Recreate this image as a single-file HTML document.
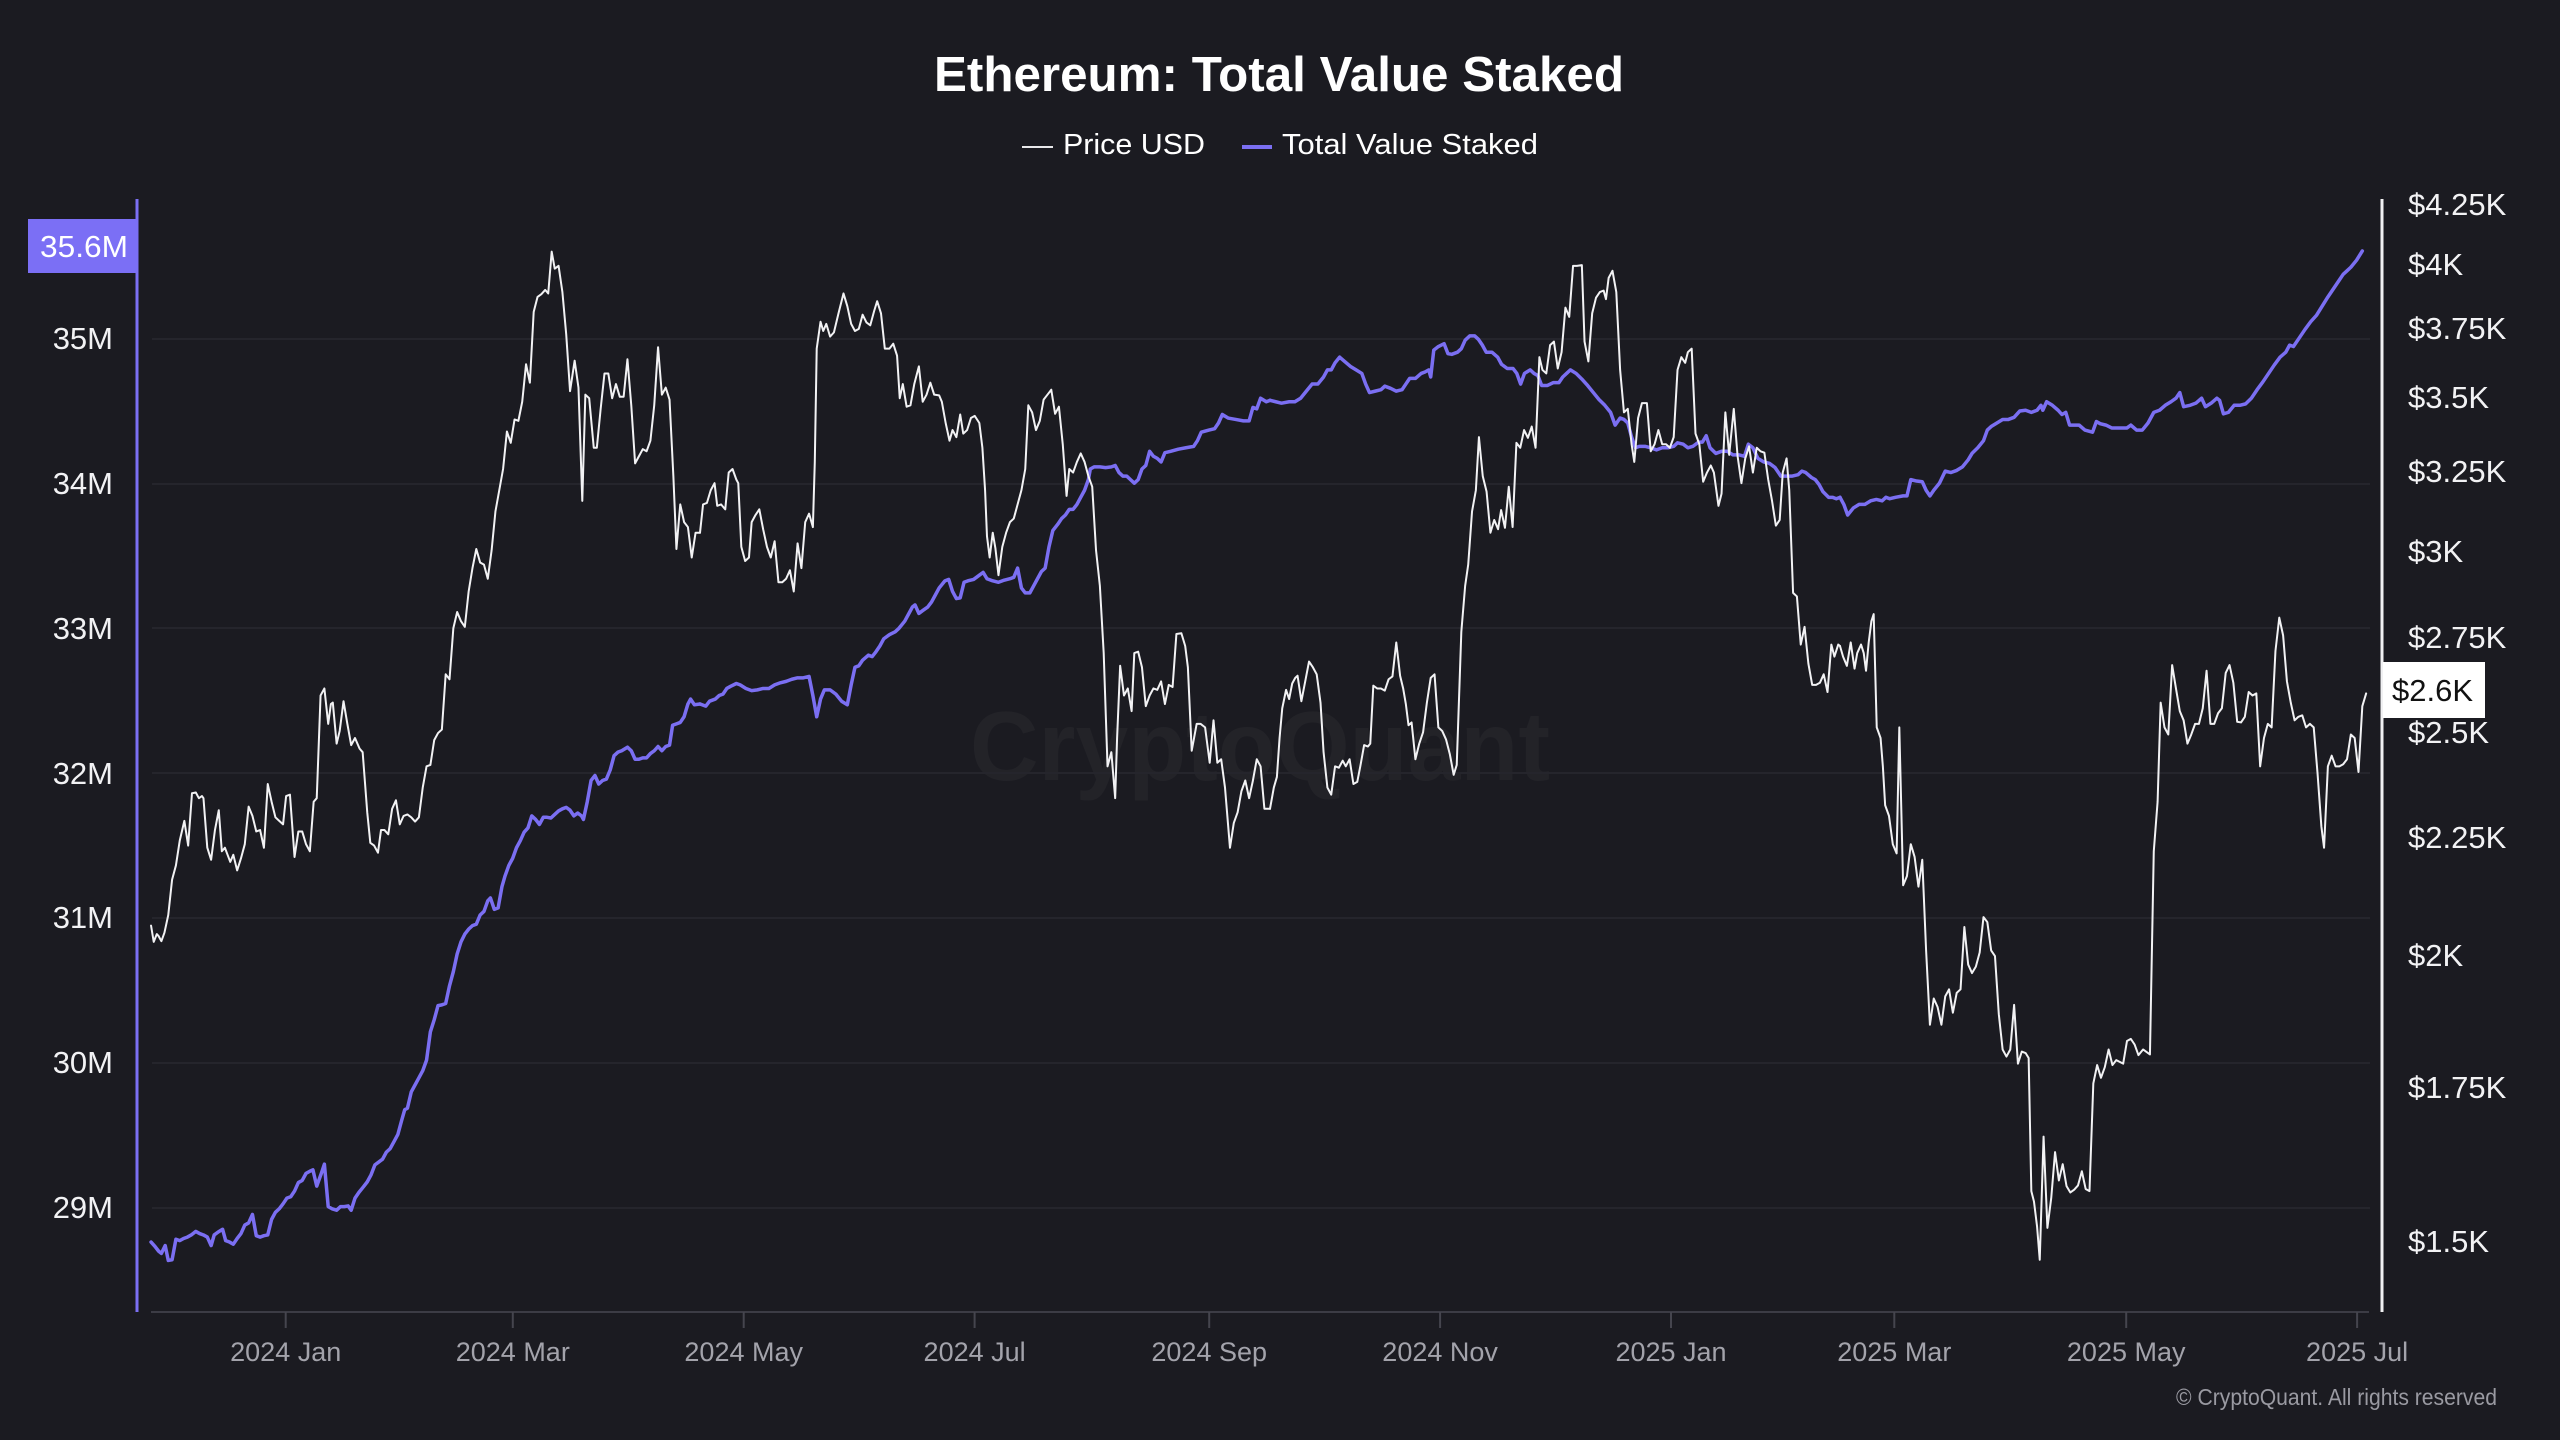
<!DOCTYPE html>
<html>
<head>
<meta charset="utf-8">
<style>
  html, body { margin: 0; padding: 0; background: #1b1b21; }
  svg { display: block; }
  text { font-family: "Liberation Sans", "DejaVu Sans", sans-serif; }
</style>
</head>
<body>
<svg width="2560" height="1440" viewBox="0 0 2560 1440" xmlns="http://www.w3.org/2000/svg">
  <rect x="0" y="0" width="2560" height="1440" fill="#1b1b21"/>

  <!-- Title -->
  <text x="1279" y="91" text-anchor="middle" font-size="49" font-weight="bold" fill="#ffffff" textLength="690" lengthAdjust="spacingAndGlyphs">Ethereum: Total Value Staked</text>

  <!-- Legend -->
  <line x1="1022" y1="147" x2="1053" y2="147" stroke="#e8e8ea" stroke-width="2"/>
  <text x="1063" y="154" font-size="29" fill="#ffffff" textLength="142" lengthAdjust="spacingAndGlyphs">Price USD</text>
  <line x1="1242" y1="147" x2="1272" y2="147" stroke="#7b6ff2" stroke-width="4"/>
  <text x="1282" y="154" font-size="29" fill="#ffffff" textLength="256" lengthAdjust="spacingAndGlyphs">Total Value Staked</text>

  <!-- Watermark -->
  <text x="970" y="780" font-size="98" font-weight="bold" fill="#ffffff" fill-opacity="0.035" textLength="580" lengthAdjust="spacingAndGlyphs">CryptoQuant</text>

  <!-- Gridlines -->
  <g stroke="#25252c" stroke-width="2">
    <line x1="152" y1="339" x2="2370" y2="339"/>
    <line x1="152" y1="484" x2="2370" y2="484"/>
    <line x1="152" y1="628" x2="2370" y2="628"/>
    <line x1="152" y1="773" x2="2370" y2="773"/>
    <line x1="152" y1="918" x2="2370" y2="918"/>
    <line x1="152" y1="1063" x2="2370" y2="1063"/>
    <line x1="152" y1="1208" x2="2370" y2="1208"/>
  </g>

  <!-- Bottom axis -->
  <line x1="151" y1="1312" x2="2369" y2="1312" stroke="#3c3c45" stroke-width="2"/>
  <g stroke="#45454e" stroke-width="2">
    <line x1="285.7" y1="1312" x2="285.7" y2="1328"/>
    <line x1="512.8" y1="1312" x2="512.8" y2="1328"/>
    <line x1="743.7" y1="1312" x2="743.7" y2="1328"/>
    <line x1="974.6" y1="1312" x2="974.6" y2="1328"/>
    <line x1="1209.2" y1="1312" x2="1209.2" y2="1328"/>
    <line x1="1440.1" y1="1312" x2="1440.1" y2="1328"/>
    <line x1="1671.0" y1="1312" x2="1671.0" y2="1328"/>
    <line x1="1894.3" y1="1312" x2="1894.3" y2="1328"/>
    <line x1="2126.2" y1="1312" x2="2126.2" y2="1328"/>
    <line x1="2357.1" y1="1312" x2="2357.1" y2="1328"/>
  </g>
  <g font-size="27" fill="#a3a3ab" text-anchor="middle">
    <text x="285.7" y="1361">2024 Jan</text>
    <text x="512.8" y="1361">2024 Mar</text>
    <text x="743.7" y="1361">2024 May</text>
    <text x="974.6" y="1361">2024 Jul</text>
    <text x="1209.2" y="1361">2024 Sep</text>
    <text x="1440.1" y="1361">2024 Nov</text>
    <text x="1671.0" y="1361">2025 Jan</text>
    <text x="1894.3" y="1361">2025 Mar</text>
    <text x="2126.2" y="1361">2025 May</text>
    <text x="2357.1" y="1361">2025 Jul</text>
  </g>

  <!-- Copyright -->
  <text x="2176" y="1405" font-size="23" fill="#9a9aa2" textLength="321" lengthAdjust="spacingAndGlyphs">© CryptoQuant. All rights reserved</text>

  <!-- Left axis -->
  <line x1="137" y1="199" x2="137" y2="1312" stroke="#7b6ff2" stroke-width="3"/>
  <g font-size="31" fill="#f2f2f4" text-anchor="end">
    <text x="113" y="349">35M</text>
    <text x="113" y="494">34M</text>
    <text x="113" y="639">33M</text>
    <text x="113" y="784">32M</text>
    <text x="113" y="928">31M</text>
    <text x="113" y="1073">30M</text>
    <text x="113" y="1218">29M</text>
  </g>
  <rect x="28" y="219" width="109" height="54" fill="#7b6ff5"/>
  <text x="128" y="257" font-size="31" fill="#ffffff" text-anchor="end" textLength="88" lengthAdjust="spacingAndGlyphs">35.6M</text>

  <!-- Right axis -->
  <line x1="2382" y1="199" x2="2382" y2="1312" stroke="#f0f0f2" stroke-width="3"/>
  <g font-size="31" fill="#f2f2f4">
    <text x="2408" y="215">$4.25K</text>
    <text x="2408" y="275">$4K</text>
    <text x="2408" y="339">$3.75K</text>
    <text x="2408" y="408">$3.5K</text>
    <text x="2408" y="482">$3.25K</text>
    <text x="2408" y="562">$3K</text>
    <text x="2408" y="648">$2.75K</text>
    <text x="2408" y="743">$2.5K</text>
    <text x="2408" y="848">$2.25K</text>
    <text x="2408" y="966">$2K</text>
    <text x="2408" y="1098">$1.75K</text>
    <text x="2408" y="1252">$1.5K</text>
  </g>

  <!-- Series: Total Value Staked (blue) -->
  <g fill="none" stroke="#7b6ff2" stroke-width="3.5" stroke-linejoin="round" stroke-linecap="round">
    <polyline vector-effect="non-scaling-stroke" transform="translate(130,200) scale(0.38265,0.70791)" points="55,1472 65,1478 75,1485 82,1488 92,1477 100,1498 110,1497 120,1468 130,1470 140,1467 150,1465 160,1462 172,1457 182,1460 192,1462 202,1465 212,1477 220,1462 230,1458 242,1454 250,1470 260,1472 270,1475 280,1467 290,1460 300,1448 310,1445 320,1433 330,1463 340,1465 350,1463 360,1462 370,1440 380,1430 390,1425 400,1418 410,1410 420,1408 430,1400 440,1388 450,1385 460,1375 470,1372 478,1370 488,1393 500,1375 508,1362 518,1422 528,1425 540,1427 550,1422 560,1422 570,1421 578,1427 588,1410 598,1402 610,1394 620,1387 630,1377 640,1363 650,1359 660,1355 670,1345 680,1340 690,1330 700,1320 710,1300 718,1285 725,1283 735,1260 745,1250 755,1240 765,1230 775,1215 785,1175 795,1158 805,1138 815,1137 825,1135 835,1110 845,1090 855,1065 865,1048 875,1037 885,1030 895,1025 905,1023 915,1010 925,1005 935,990 942,986 952,1002 962,1000 972,970 980,955 990,940 1000,930 1010,915 1020,905 1030,893 1040,887 1050,870 1060,875 1070,882 1080,872 1090,872 1100,873 1110,868 1120,863 1130,860 1140,858 1150,862 1160,870 1170,866 1180,870 1185,875 1195,850 1205,820 1215,813 1225,825 1235,820 1245,818 1255,805 1265,785 1275,780 1285,778 1300,773 1310,778 1320,790 1330,790 1340,788 1350,788 1360,782 1370,778 1380,772 1390,778 1400,772 1410,770 1418,742 1428,740 1438,738 1448,730 1458,712 1465,705 1475,713 1489.6,712"/>
    <polyline vector-effect="non-scaling-stroke" transform="translate(700,200) scale(0.38265,0.70791)" points="0,712 15,715 25,708 40,705 50,700 60,698 70,690 80,687 95,683 105,685 120,690 135,693 150,692 165,690 180,690 195,685 210,682 225,680 240,677 255,675 270,675 285,673 295,700 305,730 315,705 325,692 340,692 355,698 370,708 385,713 395,685 405,660 415,658 425,650 440,643 450,645 460,638 470,630 480,620 495,614 510,610 520,605 535,595 545,585 555,575 562,572 572,584 582,580 595,575 605,568 615,558 625,548 640,538 650,536 660,553 670,563 680,562 690,540 700,538 715,536 730,530 740,526 750,535 765,538 780,540 795,537 810,535 820,533 830,520 840,548 850,555 862,555 872,545 882,535 892,525 902,520 912,490 922,467 935,458 945,450 955,445 965,437 975,437 985,430 995,420 1005,410 1015,395 1020,380 1030,377 1045,377 1060,378 1075,377 1085,375 1095,385 1105,390 1115,390 1125,395 1135,400 1145,395 1155,380 1165,375 1175,355 1185,362 1195,365 1205,370 1215,357 1230,355 1250,352 1270,350 1290,348 1300,340 1310,328 1330,325 1345,323 1355,315 1365,303 1380,308 1400,310 1420,312 1435,312 1445,293 1455,295 1465,280 1480,285 1489.6,283"/>
    <polyline vector-effect="non-scaling-stroke" transform="translate(1270,200) scale(0.38265,0.70791)" points="0,283 15,285 30,287 50,285 65,285 80,280 95,270 110,260 125,260 140,250 150,240 160,240 170,230 182,222 195,228 210,235 225,240 240,245 250,260 260,272 275,270 290,268 300,263 315,266 330,270 345,268 355,260 365,252 380,252 395,245 405,243 415,240 420,250 428,212 440,207 455,203 465,217 475,218 490,215 500,210 510,198 522,192 535,192 545,197 555,205 565,215 580,215 595,222 605,232 620,238 635,238 645,245 655,260 665,245 680,240 690,245 700,248 710,262 725,262 740,258 755,258 765,250 775,245 785,240 800,245 815,253 830,262 845,272 860,282 875,290 890,300 902,318 915,308 925,310 935,315 945,335 955,350 965,348 980,348 995,350 1010,353 1025,350 1040,350 1055,348 1065,343 1080,345 1092,350 1105,348 1120,342 1130,342 1140,333 1150,350 1165,358 1180,355 1195,355 1210,360 1225,360 1240,362 1250,345 1262,350 1275,365 1290,370 1305,372 1320,378 1335,390 1350,390 1365,390 1380,388 1390,383 1400,385 1415,392 1425,395 1435,402 1445,412 1460,420 1470,420 1480,422 1489.6,420"/>
    <polyline vector-effect="non-scaling-stroke" transform="translate(1840,200) scale(0.38265,0.70791)" points="0,420 10,430 20,445 35,435 50,430 65,430 80,425 95,423 110,425 120,420 130,422 145,420 165,418 175,418 185,395 200,397 215,398 225,410 235,418 245,410 260,400 275,383 290,385 305,382 320,377 335,367 345,358 360,350 375,340 385,325 395,320 410,315 425,310 440,310 455,307 470,298 485,297 500,300 515,297 525,290 530,297 540,285 555,290 570,297 580,303 590,300 600,318 610,318 625,318 640,325 660,328 670,313 680,316 695,318 710,322 725,322 740,322 750,322 760,318 775,325 790,325 805,315 820,300 835,297 850,290 865,285 878,280 888,272 898,292 915,290 930,287 945,280 955,292 970,287 985,280 992,283 1002,302 1015,300 1030,290 1045,290 1060,288 1075,280 1090,268 1105,257 1120,245 1135,233 1150,222 1165,215 1175,205 1185,207 1200,195 1215,183 1230,172 1245,163 1260,150 1275,137 1290,125 1305,113 1315,105 1325,100 1335,95 1350,85 1365,72"/>
  </g>

  <!-- Series: Price USD (white) -->
  <g fill="none" stroke="#f2f2f4" stroke-width="2" stroke-linejoin="round" stroke-linecap="round">
    <polyline vector-effect="non-scaling-stroke" transform="translate(130,200) scale(0.38265,0.70791)" points="55,1025 62,1048 70,1037 75,1040 82,1047 90,1035 100,1010 110,960 120,940 130,905 142,877 152,912 162,838 172,837 180,845 188,842 192,845 202,915 212,932 222,890 232,862 240,920 248,915 255,925 262,935 270,925 280,947 290,930 300,910 310,857 320,870 330,892 340,890 350,915 360,825 370,850 380,872 390,877 400,882 408,842 418,840 430,928 440,892 450,892 460,910 470,920 480,850 488,845 498,700 508,690 518,740 525,712 530,710 540,768 548,750 558,708 568,740 578,770 588,760 600,775 608,780 620,865 628,908 638,912 648,922 656,890 665,890 675,896 685,860 695,848 705,882 715,870 725,868 735,872 745,878 755,872 765,830 775,800 785,798 795,763 805,753 815,748 825,670 835,677 845,605 855,582 865,595 875,603 885,553 895,520 905,493 915,512 925,515 935,535 945,495 955,440 965,410 975,380 985,327 995,343 1005,310 1015,312 1025,285 1035,232 1045,258 1055,158 1065,137 1075,133 1085,127 1093,132 1102,73 1110,97 1120,93 1130,130 1140,190 1150,270 1162,227 1172,265 1182,425 1190,275 1200,280 1212,350 1220,350 1230,295 1240,245 1250,245 1260,280 1270,260 1280,278 1290,278 1300,225 1310,290 1320,372 1330,362 1340,352 1350,355 1360,340 1370,290 1380,208 1390,275 1400,265 1410,282 1420,390 1428,493 1438,430 1448,455 1458,462 1468,505 1478,470 1489.6,470"/>
    <polyline vector-effect="non-scaling-stroke" transform="translate(700,200) scale(0.38265,0.70791)" points="0,470 8,430 18,428 28,410 38,400 45,432 55,430 66,437 75,385 85,380 95,395 100,400 108,490 118,510 128,505 135,455 145,445 155,437 165,465 175,490 185,505 195,482 205,540 215,540 225,535 235,523 245,553 255,485 265,520 275,455 285,443 295,462 300,370 305,210 315,172 322,185 330,175 340,193 350,187 362,160 375,132 385,150 395,175 405,185 415,182 425,162 435,173 445,177 455,157 463,143 473,160 483,210 495,210 505,203 515,220 522,280 530,260 540,292 550,290 560,260 572,235 582,285 592,275 602,258 612,275 625,276 632,285 642,315 652,340 660,325 670,335 680,303 688,330 698,325 708,308 718,305 730,315 738,350 745,410 750,475 757,505 765,470 772,492 780,530 790,490 800,470 810,455 820,450 830,430 840,410 850,380 858,290 868,300 878,325 888,312 898,282 908,275 918,268 928,302 938,292 948,345 958,418 965,380 975,385 985,370 995,358 1005,370 1015,390 1025,405 1035,495 1045,545 1055,640 1065,800 1075,780 1085,845 1090,760 1098,658 1108,700 1118,690 1128,722 1135,640 1145,638 1155,660 1165,715 1175,700 1185,690 1195,692 1205,680 1215,712 1225,685 1235,688 1245,613 1258,612 1268,630 1275,660 1285,778 1298,740 1308,740 1320,745 1332,795 1342,735 1352,795 1362,790 1372,830 1385,915 1395,880 1405,865 1415,835 1425,820 1435,845 1445,820 1455,790 1465,800 1475,860 1489.6,860"/>
    <polyline vector-effect="non-scaling-stroke" transform="translate(1270,200) scale(0.38265,0.70791)" points="0,860 10,830 18,815 25,760 32,718 42,692 50,705 58,683 66,675 72,672 82,708 92,680 102,652 112,660 122,670 132,710 140,780 150,830 160,840 170,800 180,802 190,792 198,800 208,790 218,825 228,822 236,800 246,770 256,772 262,768 270,686 280,690 290,690 300,693 310,677 320,673 330,625 340,672 348,690 355,712 362,742 370,738 380,790 390,768 400,752 410,710 420,675 430,670 440,745 450,750 460,762 470,783 480,812 488,798 500,610 510,545 518,515 528,440 538,410 546,335 556,390 566,412 576,470 586,452 596,465 604,438 614,463 624,405 634,462 644,343 654,350 664,325 674,336 684,320 694,350 704,222 712,240 722,245 732,205 742,200 752,238 762,215 772,152 782,165 792,93 802,93 815,92 822,200 832,228 842,160 852,138 862,130 872,128 878,140 885,110 895,100 905,130 915,240 925,300 935,295 945,345 952,370 962,308 972,287 985,287 995,355 1005,345 1015,325 1025,345 1035,345 1045,350 1055,335 1065,240 1075,222 1085,230 1092,215 1102,210 1112,330 1122,345 1132,398 1142,385 1152,375 1160,385 1172,432 1180,415 1190,300 1200,360 1212,295 1222,362 1232,400 1242,365 1252,348 1262,385 1272,350 1282,355 1292,357 1302,395 1312,425 1322,460 1332,452 1340,385 1350,365 1357,410 1367,555 1377,560 1387,628 1397,603 1407,655 1417,685 1427,685 1437,682 1447,670 1457,695 1467,628 1475,645 1485,628 1489.6,630"/>
    <polyline vector-effect="non-scaling-stroke" transform="translate(1840,200) scale(0.38265,0.70791)" points="0,630 8,645 18,658 28,625 38,662 45,640 55,628 62,640 68,665 75,625 82,595 88,585 96,745 106,760 112,800 118,855 128,870 138,910 148,923 155,745 165,968 175,955 185,910 195,928 205,970 215,932 225,1060 235,1165 245,1128 255,1140 265,1165 275,1125 285,1115 295,1148 305,1120 315,1115 325,1027 335,1080 345,1092 355,1083 365,1063 375,1013 385,1020 395,1060 405,1068 415,1150 425,1200 435,1210 445,1200 455,1137 465,1220 475,1203 485,1205 493,1212 500,1400 507,1415 515,1450 522,1497 532,1323 542,1452 552,1410 562,1345 572,1385 582,1362 592,1393 602,1402 612,1398 622,1392 632,1372 642,1397 652,1400 662,1248 672,1222 682,1240 692,1225 702,1200 712,1222 722,1215 740,1220 750,1188 760,1185 770,1193 780,1208 792,1200 810,1207 820,920 830,850 838,710 848,745 858,755 868,657 878,690 888,722 898,735 908,768 918,755 928,740 938,740 948,718 958,665 968,740 978,740 988,725 998,718 1008,668 1018,657 1028,682 1038,737 1048,738 1058,730 1068,695 1078,700 1088,697 1098,800 1108,760 1118,740 1128,745 1138,637 1148,590 1158,615 1168,680 1178,710 1188,735 1198,730 1208,728 1218,745 1228,740 1238,745 1248,810 1258,885 1265,915 1275,800 1285,785 1295,800 1305,800 1315,797 1325,790 1335,755 1345,760 1355,808 1365,715 1375,697"/>
  </g>

  <!-- Current price tag -->
  <rect x="2383" y="662" width="102" height="56" fill="#ffffff"/>
  <text x="2392" y="701" font-size="31" fill="#111111">$2.6K</text>
</svg>
</body>
</html>
